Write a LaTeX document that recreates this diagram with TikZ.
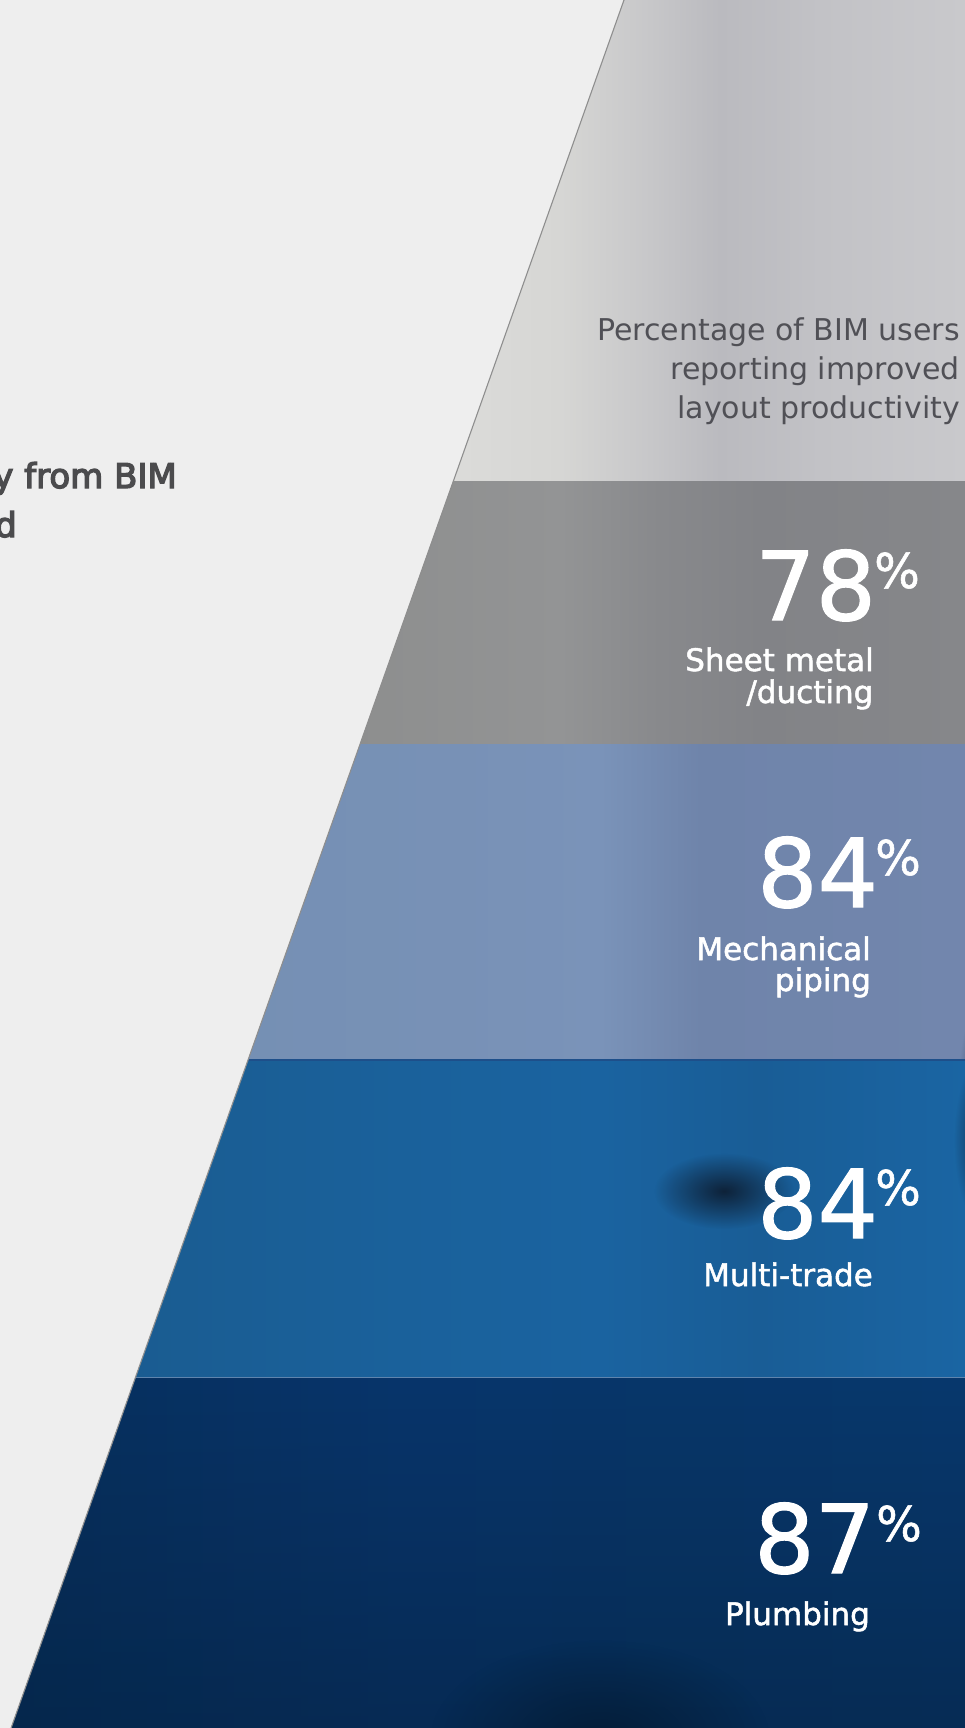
\documentclass[tikz,border=0pt]{standalone}
\usepackage{fontspec}
\usetikzlibrary{fadings}
\newfontfamily\dvs{DejaVu Sans}
\newfontfamily\dvsnum[FakeBold=1.2]{DejaVu Sans}
\newfontfamily\dvsmed[FakeBold=1.6]{DejaVu Sans}
\newfontfamily\dvssemi[FakeBold=4]{DejaVu Sans}
\definecolor{bg}{HTML}{EEEEEE}
\definecolor{edge}{HTML}{8E8E8E}
\definecolor{txtgrey}{HTML}{505056}
\definecolor{lefttxt}{HTML}{4B4B4D}
% band 1
\definecolor{ba1}{HTML}{DCDCDA}\definecolor{ba2}{HTML}{D6D6D4}\definecolor{ba3}{HTML}{C7C7C9}
\definecolor{ba4}{HTML}{BABABF}\definecolor{ba5}{HTML}{C2C2C6}\definecolor{ba6}{HTML}{C9C9CC}
% band 2
\definecolor{bb1}{HTML}{8D8E8E}\definecolor{bb2}{HTML}{939495}\definecolor{bb3}{HTML}{88898C}
\definecolor{bb4}{HTML}{828387}\definecolor{bb5}{HTML}{86878A}
% band 3
\definecolor{bc1}{HTML}{7590B4}\definecolor{bc2}{HTML}{7891B6}\definecolor{bc3}{HTML}{7A93B9}
\definecolor{bc4}{HTML}{6F84AA}\definecolor{bc5}{HTML}{7286AD}
% band 4
\definecolor{bd1}{HTML}{1A5C91}\definecolor{bd2}{HTML}{1A619B}\definecolor{bd3}{HTML}{1A63A0}
\definecolor{bd4}{HTML}{195D96}\definecolor{bd5}{HTML}{1A65A3}
% band 5
\definecolor{be1}{HTML}{072F5C}\definecolor{be2}{HTML}{08356B}\definecolor{be3}{HTML}{08376A}
\definecolor{be4}{HTML}{08386D}
\definecolor{blobc}{HTML}{0E2239}
\definecolor{navydark}{HTML}{041D38}
\definecolor{line34}{HTML}{1E4F8A}
\definecolor{line45}{HTML}{5F84AD}
\tikzfading[name=blob, inner color=transparent!0, outer color=transparent!100]
\tikzfading[name=downdark, top color=transparent!100, bottom color=transparent!55]
\begin{document}
\begin{tikzpicture}[x=1pt,y=-1pt,
  toptxt/.style={anchor=base east, inner sep=0pt, text=txtgrey, font=\dvs\fontsize{30}{36}\selectfont},
  bignum/.style={anchor=base west, inner sep=0pt, text=white, font=\dvsnum\fontsize{95}{100}\selectfont},
  pctsign/.style={anchor=base west, inner sep=0pt, text=white, font=\dvsnum\fontsize{48}{50}\selectfont},
  labtxt/.style={anchor=base east, inner sep=0pt, text=white, font=\dvsmed\fontsize{31}{34}\selectfont},
  lefttext/.style={anchor=base east, inner sep=0pt, text=lefttxt, font=\dvssemi\fontsize{34}{40}\selectfont}
]
\useasboundingbox (0,0) rectangle (965,1728);
\fill[bg] (0,0) rectangle (965,1728);
\clip (0,0) rectangle (965,1728);

% corner coordinates of the slanted edge
\coordinate (e0) at (624,0);
\coordinate (e1) at (453.4,481);
\coordinate (e2) at (360.1,744);
\coordinate (e3) at (248,1060);
\coordinate (e4) at (135.6,1377);
\coordinate (e5) at (11.1,1728);

% band 1
\begin{scope}
\clip (e0) -- (965,0) -- (965,481) -- (e1) -- cycle;
\shade[left color=ba1, right color=ba2] (440,0) rectangle (560.5,481.5);
\shade[left color=ba2, right color=ba3] (560,0) rectangle (650.5,481.5);
\shade[left color=ba3, right color=ba4] (650,0) rectangle (720.5,481.5);
\shade[left color=ba4, right color=ba5] (720,0) rectangle (820.5,481.5);
\shade[left color=ba5, right color=ba6] (820,0) rectangle (965,481.5);
\end{scope}

% band 2
\begin{scope}
\clip (e1) -- (965,481) -- (965,744) -- (e2) -- cycle;
\shade[left color=bb1, right color=bb2] (350,481) rectangle (560.5,744.5);
\shade[left color=bb2, right color=bb3] (560,481) rectangle (660.5,744.5);
\shade[left color=bb3, right color=bb4] (660,481) rectangle (760.5,744.5);
\shade[left color=bb4, right color=bb5] (760,481) rectangle (965,744.5);
\end{scope}

% band 3
\begin{scope}
\clip (e2) -- (965,744) -- (965,1060) -- (e3) -- cycle;
\shade[left color=bc1, right color=bc2] (240,744) rectangle (450.5,1060.5);
\shade[left color=bc2, right color=bc3] (450,744) rectangle (600.5,1060.5);
\shade[left color=bc3, right color=bc4] (600,744) rectangle (700.5,1060.5);
\shade[left color=bc4, right color=bc5] (700,744) rectangle (965,1060.5);
\fill[blobc, path fading=blob, opacity=0.8] (990,1090) ellipse [x radius=32, y radius=100];
\end{scope}

% band 4
\begin{scope}
\clip (e3) -- (965,1060) -- (965,1377) -- (e4) -- cycle;
\shade[left color=bd1, right color=bd2] (130,1060) rectangle (400.5,1377.5);
\shade[left color=bd2, right color=bd3] (400,1060) rectangle (600.5,1377.5);
\shade[left color=bd3, right color=bd4] (600,1060) rectangle (760.5,1377.5);
\shade[left color=bd4, right color=bd5] (760,1060) rectangle (965,1377.5);
\fill[blobc, path fading=blob] (724,1191) ellipse [x radius=70, y radius=38];
\fill[blobc, path fading=blob] (988,1140) ellipse [x radius=34, y radius=90];
\end{scope}

% band 5
\begin{scope}
\clip (e4) -- (965,1377) -- (965,1728) -- (e5) -- cycle;
\shade[left color=be1, right color=be2] (0,1377) rectangle (400.5,1728);
\shade[left color=be2, right color=be3] (400,1377) rectangle (700.5,1728);
\shade[left color=be3, right color=be4] (700,1377) rectangle (965,1728);
\fill[navydark, path fading=downdark] (0,1377) rectangle (965,1728);
\fill[navydark, path fading=blob] (600,1740) ellipse [x radius=170, y radius=100];
\end{scope}

% band separator lines
\draw[line34, line width=1.6pt] (e3) -- (965,1060);
\draw[line45, line width=1pt] (e4) -- (965,1377);
% slanted edge
\draw[edge, line width=1.1pt] (e0) -- (e5);

% left (cropped) heading
\node[lefttext] (lt1) at (177,488) {y from BIM};
\node[lefttext] (lt2) at (17,537) {d};

% top caption
\node[toptxt] (cap1) at (960,340) {Percentage of BIM users};
\node[toptxt] (cap2) at (960,379) {reporting improved};
\node[toptxt] (cap3) at (960,418) {layout productivity};

% band 2
\node[bignum] (n78) at (755,620) {78};
\node[pctsign] (p78) at (874,588) {\%};
\node[labtxt] (l2a) at (874,671) {Sheet metal};
\node[labtxt] (l2b) at (873.5,703) {/ducting};

% band 3
\node[bignum] (n84a) at (757,907) {84};
\node[pctsign] (p84a) at (875,875) {\%};
\node[labtxt] (l3a) at (871,960) {Mechanical};
\node[labtxt] (l3b) at (871,991) {piping};

% band 4
\node[bignum] (n84b) at (757,1238) {84};
\node[pctsign] (p84b) at (875,1205) {\%};
\node[labtxt] (l4a) at (873,1286) {Multi-trade};

% band 5
\node[bignum] (n87) at (754,1573) {87};
\node[pctsign] (p87) at (876,1541) {\%};
\node[labtxt] (l5a) at (870,1625) {Plumbing};
\end{tikzpicture}
\end{document}
